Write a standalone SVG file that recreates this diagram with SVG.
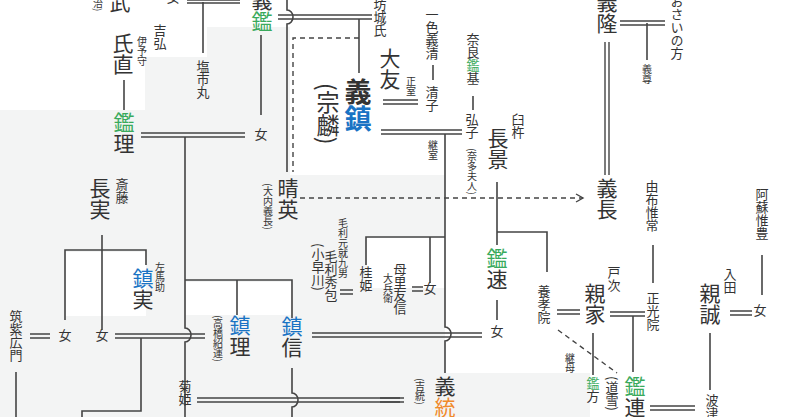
<svg xmlns="http://www.w3.org/2000/svg" width="800" height="417" viewBox="0 0 800 417">
<style>
text{font-family:"Noto Sans CJK JP","Noto Sans CJK SC",sans-serif;fill:#333;writing-mode:vertical-rl;glyph-orientation-vertical:0}
.L{font-size:21px}
.M{font-size:13px}
.S{font-size:10px}
.g{fill:#3aaa5c}.b{fill:#1a73c4}.o{fill:#f08a2c}
.ln{fill:none;stroke:#444;stroke-width:1.6}
.dl{fill:none;stroke:#444;stroke-width:1.4}
.ds{fill:none;stroke:#444;stroke-width:1.4;stroke-dasharray:5 4}
</style>
<defs>
<marker id="ar" markerWidth="10" markerHeight="10" refX="8" refY="5" orient="auto" markerUnits="userSpaceOnUse"><path d="M1 1 L8 5 L1 9" fill="none" stroke="#444" stroke-width="1.4"/></marker>
</defs>
<rect width="800" height="417" fill="#fff"/>
<g id="bg" fill="#f3f4f4">
<rect x="0" y="110" width="290" height="307"/>
<rect x="145" y="57" width="145" height="60"/>
<rect x="207" y="27" width="83" height="40"/>
<rect x="290" y="175" width="155" height="60"/>
<rect x="290" y="235" width="155" height="182"/>
<rect x="445" y="373" width="145" height="44"/>
</g>
<g id="bgwhite" fill="#fff">
<rect x="66" y="252" width="80" height="64"/>
<rect x="186" y="282" width="105" height="33"/>
<rect x="367" y="238" width="78" height="50"/>
</g>
<g id="connectors">
<path class="dl" d="M187 0H240M187 3H240"/>
<path class="ln" d="M203 2V53"/>
<path class="ln" d="M287 0V10a6 7 0 0 1 0 14V172"/>
<path class="dl" d="M278 15H372M278 19H372"/>
<path class="ln" d="M359 19V73"/>
<path class="ds" d="M359 38H293V172"/>
<path class="ln" d="M261 35V115"/>
<path class="ln" d="M124 80V110"/>
<path class="dl" d="M141 133H245M141 137H245"/>
<path class="ln" d="M185 137V328a6 7 0 0 1 0 14V417"/>
<path class="dl" d="M383 100H418M383 104H418"/>
<path class="ln" d="M433 65V80"/>
<path class="dl" d="M381 130H462M381 134H462"/>
<path class="ln" d="M445 134V327a6 7 0 0 1 0 14V373"/>
<path class="ln" d="M473 96V110"/>
<path class="ln" d="M497 182V245M497 300V320"/>
<path class="ln" d="M497 232H547V272"/>
<path class="ds" d="M300 198H583" marker-end="url(#ar)"/>
<path class="dl" d="M620 21H665M620 25H665"/>
<path class="ln" d="M647 23V60"/>
<path class="dl" d="M605 42V175M609 42V175"/>
<path class="ln" d="M653 245V283"/>
<path class="dl" d="M557 310H580M557 314H580"/>
<path class="dl" d="M610 312H645M610 316H645"/>
<path class="ln" d="M633 316V372"/>
<path class="ln" d="M593 333V375"/>
<path class="ds" d="M558 330L617 373"/>
<path class="dl" d="M650 406H695M650 410H695"/>
<path class="ln" d="M710 333V390"/>
<path class="dl" d="M730 311H752M730 315H752"/>
<path class="ln" d="M762 255V295"/>
<path class="ln" d="M102 235V330"/>
<path class="ln" d="M65 320V250H146V265"/>
<path class="dl" d="M30 334H50M30 338H50"/>
<path class="dl" d="M115 334H205M115 338H205"/>
<path class="ln" d="M141 338V411H82V417"/>
<path class="ln" d="M16 372V417"/>
<path class="ln" d="M185 280H292V318M237 280V315"/>
<path class="dl" d="M312 333H482M312 337H482"/>
<path class="ln" d="M292 368V393a6 7 0 0 1 0 14V417"/>
<path class="dl" d="M197 398H400M197 402H400"/>
<path class="dl" d="M380 398H404M380 402H404"/>
<path class="ln" d="M366 265V237H445M430 237V283"/>
<path class="dl" d="M340 290H353M340 294H353"/>
<path class="dl" d="M412 287H423M412 291H423"/>
</g>
<g id="n-top">
<text class="L" x="120" y="-8">武</text>
<text class="S" x="98" y="-2">治)</text>
<text class="M" x="173" y="-9">女</text>
<text class="L" x="262" y="-10">義<tspan class="g">鑑</tspan></text>
<text class="M" x="380" y="-2">坊城氏</text>
</g>
<g id="n-ujinao"><text class="M" x="160" y="24">吉弘</text><text class="S" x="142" y="36">伊予守</text><text class="L" x="123" y="33">氏直</text></g>
<g id="n-akimasa"><text class="L" x="124" y="112"><tspan class="g">鑑</tspan>理</text></g>
<g id="n-shio"><text class="M" x="203" y="60">塩市丸</text></g>
<g id="n-onna1"><text class="M" x="261" y="128">女</text></g>
<g id="n-otomo"><text class="L" x="390" y="48">大友</text>
<text style="font-size:23px" x="328" y="83">(宗麟)</text>
<text style="font-size:27px;font-weight:bold" x="358" y="78">義<tspan class="b">鎮</tspan></text>
<text class="S" x="411" y="76">正室</text><text class="S" x="433" y="140">継室</text></g>
<g id="n-kiyoko"><text class="M" x="432" y="8">一色義清</text><text class="M" x="432" y="86">清子</text></g>
<g id="n-hiroko"><text class="M" x="473" y="33">奈良<tspan class="g">鑑</tspan>基</text><text class="M" x="472" y="113">弘子</text><text class="S" x="472" y="148">(奈多夫人)</text></g>
<g id="n-nagakage"><text class="M" x="518" y="113">臼杵</text><text class="L" x="498" y="128">長景</text></g>
<g id="n-akihaya"><text class="L" x="497" y="248"><tspan class="g">鑑</tspan>速</text><text class="M" x="497" y="325">女</text></g>
<g id="n-yoshitaka"><text class="L" x="607" y="-8">義隆</text><text class="M" x="677" y="-5">おさいの方</text><text class="S" x="647" y="64">義尊</text></g>
<g id="n-yoshinaga"><text class="L" x="607" y="178">義長</text></g>
<g id="n-harufusa"><text class="L" x="288" y="178">晴英</text><text class="S" x="268" y="183">(大内義長)</text></g>
<g id="n-yufu"><text class="M" x="652" y="180">由布惟常</text><text class="M" x="653" y="292">正光院</text></g>
<g id="n-chikaie"><text class="M" x="614" y="266">戸次</text><text class="L" x="595" y="283">親家</text><text class="M" x="544" y="285">養孝院</text><text class="S" x="570" y="353">継母</text></g>
<g id="n-akikata"><text class="M" x="593" y="377"><tspan class="g">鑑</tspan>方</text></g>
<g id="n-akitsura"><text class="M" x="612" y="376">(道雪)</text><text class="L" x="635" y="376"><tspan class="g">鑑</tspan>連</text></g>
<g id="n-nami"><text class="M" x="712" y="394">波津</text></g>
<g id="n-chikazane"><text class="L" x="710" y="283">親誠</text><text class="M" x="730" y="268">入田</text><text class="M" x="760" y="304">女</text><text class="M" x="762" y="188">阿蘇惟豊</text></g>
<g id="n-yoshimune"><text class="S" x="420" y="378">(吉統)</text><text class="L" x="445" y="376">義<tspan class="o">統</tspan></text></g>
<g id="n-nagazane"><text class="M" x="122" y="178">斎藤</text><text class="L" x="100" y="178">長実</text></g>
<g id="n-shigezane"><text class="S" x="160" y="262">左馬助</text><text class="L" x="143" y="268"><tspan class="b">鎮</tspan>実</text></g>
<g id="n-tsukushi"><text class="M" x="16" y="310">筑紫広門</text><text class="M" x="65" y="329">女</text><text class="M" x="102" y="329">女</text></g>
<g id="n-takahashi"><text class="S" x="218" y="315">(高橋紹運)</text><text class="L" x="240" y="315"><tspan class="b">鎮</tspan>理</text></g>
<g id="n-shigenobu"><text class="L" x="292" y="316"><tspan class="b">鎮</tspan>信</text></g>
<g id="n-kikuhime"><text class="M" x="185" y="380">菊姫</text></g>
<g id="n-hidekane"><text class="S" x="343" y="218">毛利元就九男</text><text class="M" x="318" y="243">(小早川)</text><text class="M" x="331" y="250">毛利秀包</text><text class="M" x="366" y="266">桂姫</text></g>
<g id="n-mori"><text class="M" x="400" y="263">母里友信</text><text class="S" x="388" y="273">大兵衛</text><text class="M" x="430" y="282">女</text></g>
</svg>
